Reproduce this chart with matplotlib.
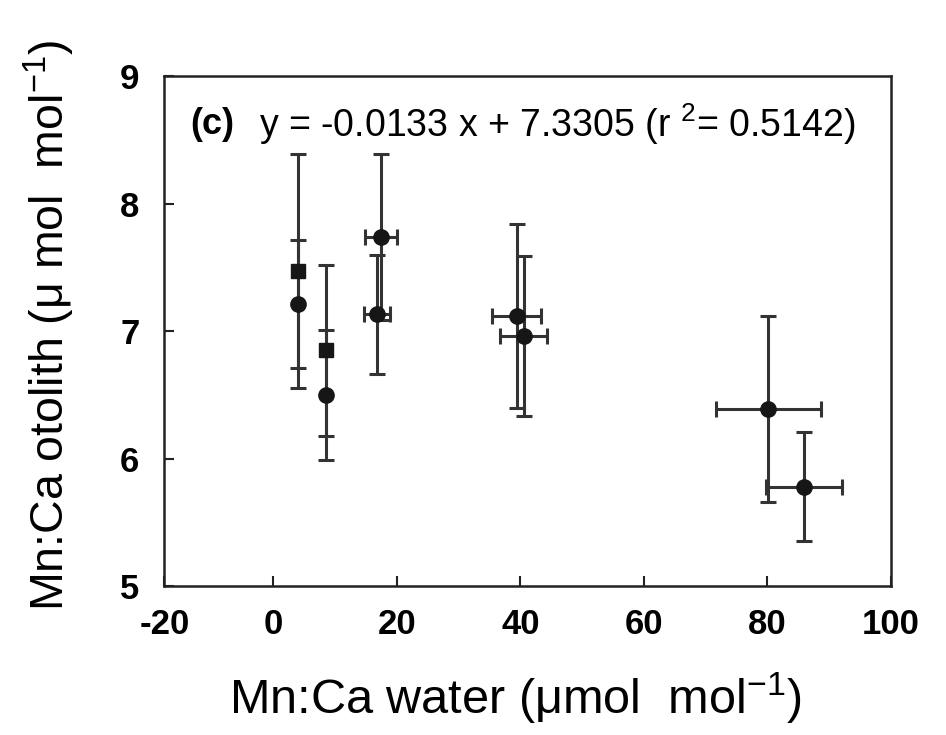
import matplotlib
matplotlib.use("Agg")
import matplotlib.pyplot as plt

# data
mn_water = [4.0, 4.0, 8.5, 8.5, 17.5, 16.8, 39.4, 40.6, 80.1, 85.9]
mn_otolith = [7.47, 7.21, 6.85, 6.50, 7.74, 7.13, 7.12, 6.96, 6.39, 5.78]
err_water = [0.0, 0.0, 0.0, 0.0, 2.6, 2.1, 4.0, 3.8, 8.5, 6.1]
err_otolith = [0.92, 0.50, 0.67, 0.51, 0.65, 0.47, 0.72, 0.63, 0.73, 0.43]
marcadores = ['s', 'o', 's', 'o', 'o', 'o', 'o', 'o', 'o', 'o']

xticks = [0, 20, 40, 60, 80]
yticks = [5, 6, 7, 8, 9]

plt.rcParams['font.family'] = ['Liberation Sans', 'DejaVu Sans']
plt.rcParams['mathtext.fontset'] = 'custom'
plt.rcParams['mathtext.rm'] = 'Liberation Sans'
plt.rcParams['mathtext.default'] = 'regular'

fig = plt.figure(figsize=(9.46, 7.35), dpi=100)
ax = fig.add_axes([0.1737, 0.2027, 0.9419 - 0.1737, 0.8966 - 0.2027])

for i in range(len(mn_water)):
    ax.errorbar(mn_water[i], mn_otolith[i],
                xerr=err_water[i] if err_water[i] > 0 else None,
                yerr=err_otolith[i], fmt=marcadores[i], color='#161616',
                ecolor='#333333', elinewidth=2.2, capsize=5.5, capthick=2.2,
                markersize=11 if marcadores[i] == 'o' else 10)

xmin = -17.6
ax.set_xlim(xmin, 100)
ax.set_ylim(5, 9)
ax.set_xticks([xmin] + xticks + [100])
ax.set_xticklabels(['-20'] + [str(t) for t in xticks] + ['100'],
                   fontsize=25, fontweight='bold')
ax.set_yticks(yticks)
ax.set_yticklabels([str(t) for t in yticks], fontsize=25, fontweight='bold')
ax.tick_params(direction='in', length=7, width=1.5, color='#222222')
ax.tick_params(axis='x', pad=16)
ax.tick_params(axis='y', pad=18)
for s in ax.spines.values():
    s.set_linewidth(1.8)
    s.set_color('#222222')

ax.text(0.035, 0.905, '(c)', transform=ax.transAxes, fontsize=26,
        fontweight='bold', va='center')
ax.text(0.13, 0.905, 'y = -0.0133 x + 7.3305 (r $^{2}$= 0.5142)',
        transform=ax.transAxes, fontsize=27, va='center')

fig.text(0.545, 0.05, 'Mn:Ca water ($\\mu$mol  mol$^{-1}$)', fontsize=35,
         ha='center', va='center')
fig.text(0.052, 0.557, 'Mn:Ca otolith ($\\mu$ mol  mol$^{-1}$)', fontsize=33.5,
         ha='center', va='center', rotation=90)

plt.savefig('out.png', dpi=100)
